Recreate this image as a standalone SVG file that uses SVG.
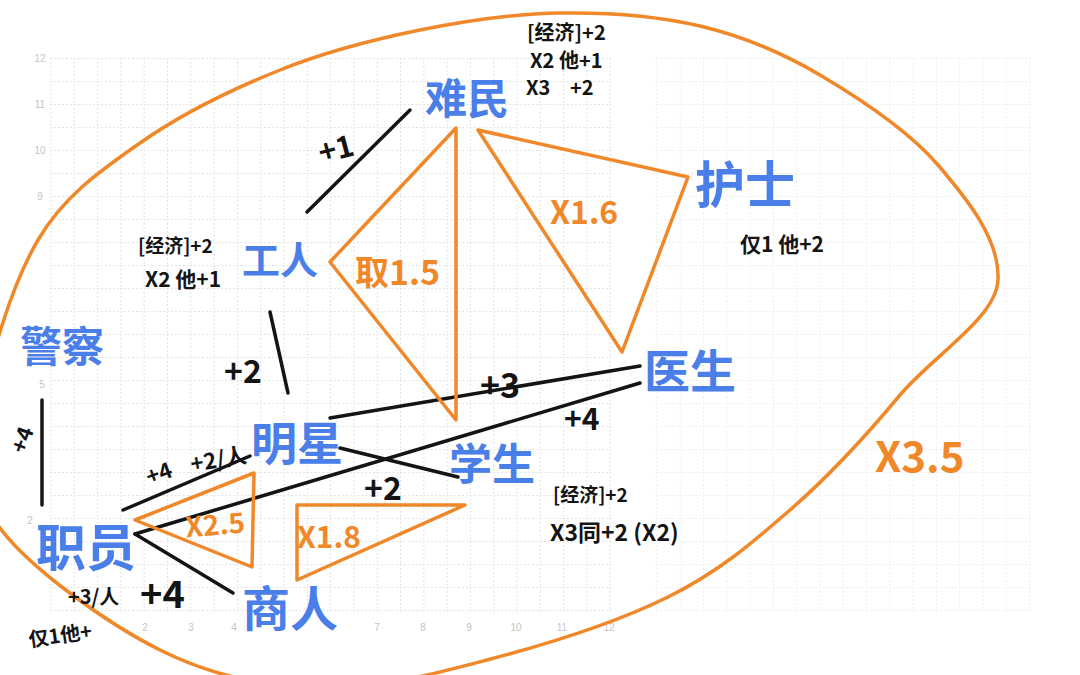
<svg xmlns="http://www.w3.org/2000/svg" width="1080" height="675" viewBox="0 0 1080 675">
<style>
.bg{fill:#ffffff}
.ax{font-family:"Liberation Sans",sans-serif;font-size:10px;fill:#c4c4c4}
.blue{font-family:"Noto Sans CJK SC",sans-serif;font-weight:700;fill:#4a7ee8}
.ink{font-family:"Noto Sans CJK SC",sans-serif;font-weight:700;fill:#141414}
.ora{font-family:"Noto Sans CJK SC",sans-serif;font-weight:700;fill:#f0882a}
.ln{stroke:#141414;stroke-width:3.5;stroke-linecap:round;fill:none}
.tri{stroke:#f0882a;stroke-width:3.5;stroke-linejoin:round;fill:none}
.grid{stroke:#d9d9d9;stroke-width:1;stroke-dasharray:1.5 2.5;fill:none}
</style>
<defs>
<pattern id="g" patternUnits="userSpaceOnUse" x="50.5" y="58" width="23.3" height="23">
<path class="grid" d="M0 0.5H23.3M0.5 0V23"/>
</pattern>
</defs>
<rect class="bg" width="1080" height="675"/>
<g id="grid">
<rect x="50" y="58" width="562" height="556" fill="url(#g)"/>
<rect x="653" y="58" width="380" height="556" fill="url(#g)" opacity="0.6"/>
<text class="ax" x="40" y="62" text-anchor="middle">12</text>
<text class="ax" x="40" y="108" text-anchor="middle">11</text>
<text class="ax" x="40" y="154" text-anchor="middle">10</text>
<text class="ax" x="40" y="200" text-anchor="middle">9</text>
<text class="ax" x="42" y="388" text-anchor="middle">5</text>
<text class="ax" x="30" y="524" text-anchor="middle">2</text>
<text class="ax" x="145" y="631" text-anchor="middle">2</text>
<text class="ax" x="191" y="631" text-anchor="middle">3</text>
<text class="ax" x="234" y="631" text-anchor="middle">4</text>
<text class="ax" x="377" y="631" text-anchor="middle">7</text>
<text class="ax" x="423" y="631" text-anchor="middle">8</text>
<text class="ax" x="469" y="631" text-anchor="middle">9</text>
<text class="ax" x="516" y="631" text-anchor="middle">10</text>
<text class="ax" x="562" y="631" text-anchor="middle">11</text>
<text class="ax" x="609" y="631" text-anchor="middle">12</text>
</g>
<g id="outer-ellipse">
<path d="M-18 410C-11.7 362 11.7 284.5 38 240C64.3 195.5 99.7 171.3 140 143C180.3 114.7 233.3 88.8 280 70C326.7 51.2 373.3 39.5 420 30C466.7 20.5 513.3 13.7 560 13C606.7 12.3 656.7 15.7 700 26C743.3 36.3 780.8 51.8 820 75C859.2 98.2 908 130 938 165C968 200 1000 240 998 280C996 318 935 354 900 395C866.2 435.8 828.7 476.3 790 510C751.3 543.7 718.5 572 668 597C617.5 622 545 644.8 487 660C429 675.2 374.5 689.7 320 688C265.5 686.3 213.3 676.7 160 650C106.7 623.3 29.7 568 0 528C-29.7 488 -24.3 458 -18 410Z" stroke="#f0882a" stroke-width="3.5" fill="none"/>
<text class="ora" x="875" y="472" font-size="42">X3.5</text>
</g>
<g id="connectors">
<line class="ln" x1="307" y1="212" x2="410" y2="110"/>
<line class="ln" x1="270" y1="312" x2="288" y2="393"/>
<line class="ln" x1="42" y1="400" x2="42" y2="505"/>
<line class="ln" x1="330" y1="418" x2="640" y2="366"/>
<line class="ln" x1="135" y1="534" x2="640" y2="383"/>
<line class="ln" x1="340" y1="448" x2="458" y2="477"/>
<line class="ln" x1="123" y1="510" x2="250" y2="456"/>
<line class="ln" x1="135" y1="534" x2="233" y2="593"/>
<text class="ink" x="318" y="160" font-size="30" transform="rotate(-15 335 148)">+1</text>
<text class="ink" x="224" y="383" font-size="32">+2</text>
<text class="ink" x="480" y="398" font-size="34">+3</text>
<text class="ink" x="564" y="430" font-size="30">+4</text>
<text class="ink" x="364" y="500" font-size="32">+2</text>
<text class="ink" x="145" y="480" font-size="22" transform="rotate(-20 162 470)">+4</text>
<text class="ink" x="190" y="468" font-size="22" transform="rotate(-10 215 458)">+2/人</text>
<text class="ink" x="8" y="450" font-size="22" transform="rotate(-70 20 440)">+4</text>
<text class="ink" x="68" y="604" font-size="20">+3/人</text>
<text class="ink" x="140" y="608" font-size="38">+4</text>
<text class="ink" x="28" y="642" font-size="20" transform="rotate(-8 64 632)">仅1他+</text>
</g>
<g id="triangles">
<polygon class="tri" points="456,128 330,262 456,420"/>
<text class="ora" x="355" y="285" font-size="34">取1.5</text>
<polygon class="tri" points="478,130 688,177 622,352"/>
<text class="ora" x="550" y="224" font-size="32">X1.6</text>
<polygon class="tri" points="135,520 254,473 252,567"/>
<text class="ora" x="185" y="535" font-size="28" transform="rotate(-5 215 522)">X2.5</text>
<polygon class="tri" points="297,505 465,505 297,580"/>
<text class="ora" x="297" y="548" font-size="30">X1.8</text>
</g>
<g id="node-nanmin">
<text class="blue" x="467" y="114" font-size="42" text-anchor="middle">难民</text>
<text class="ink" x="527" y="40" font-size="20">[经济]+2</text>
<text class="ink" x="530" y="68" font-size="20">X2 他+1</text>
<text class="ink" font-size="20"><tspan x="526" y="95">X3</tspan><tspan x="570" y="95">+2</tspan></text>
</g>
<g id="node-hushi">
<text class="blue" x="745" y="203" font-size="50" text-anchor="middle">护士</text>
<text class="ink" x="740" y="252" font-size="21">仅1 他+2</text>
</g>
<g id="node-gongren">
<text class="blue" x="280" y="274" font-size="38" text-anchor="middle">工人</text>
<text class="ink" x="138" y="253" font-size="19">[经济]+2</text>
<text class="ink" x="145" y="287" font-size="21">X2 他+1</text>
</g>
<g id="node-jingcha">
<text class="blue" x="62" y="362" font-size="42" text-anchor="middle">警察</text>
</g>
<g id="node-mingxing">
<text class="blue" x="297" y="460" font-size="46" text-anchor="middle">明星</text>
</g>
<g id="node-xuesheng">
<text class="blue" x="492" y="480" font-size="43" text-anchor="middle">学生</text>
<text class="ink" x="553" y="502" font-size="19">[经济]+2</text>
<text class="ink" x="550" y="541" font-size="23">X3同+2 (X2)</text>
</g>
<g id="node-yisheng">
<text class="blue" x="690" y="388" font-size="46" text-anchor="middle">医生</text>
</g>
<g id="node-zhiyuan">
<text class="blue" x="86" y="566" font-size="50" text-anchor="middle">职员</text>
</g>
<g id="node-shangren">
<text class="blue" x="290" y="626" font-size="48" text-anchor="middle">商人</text>
</g>
</svg>
